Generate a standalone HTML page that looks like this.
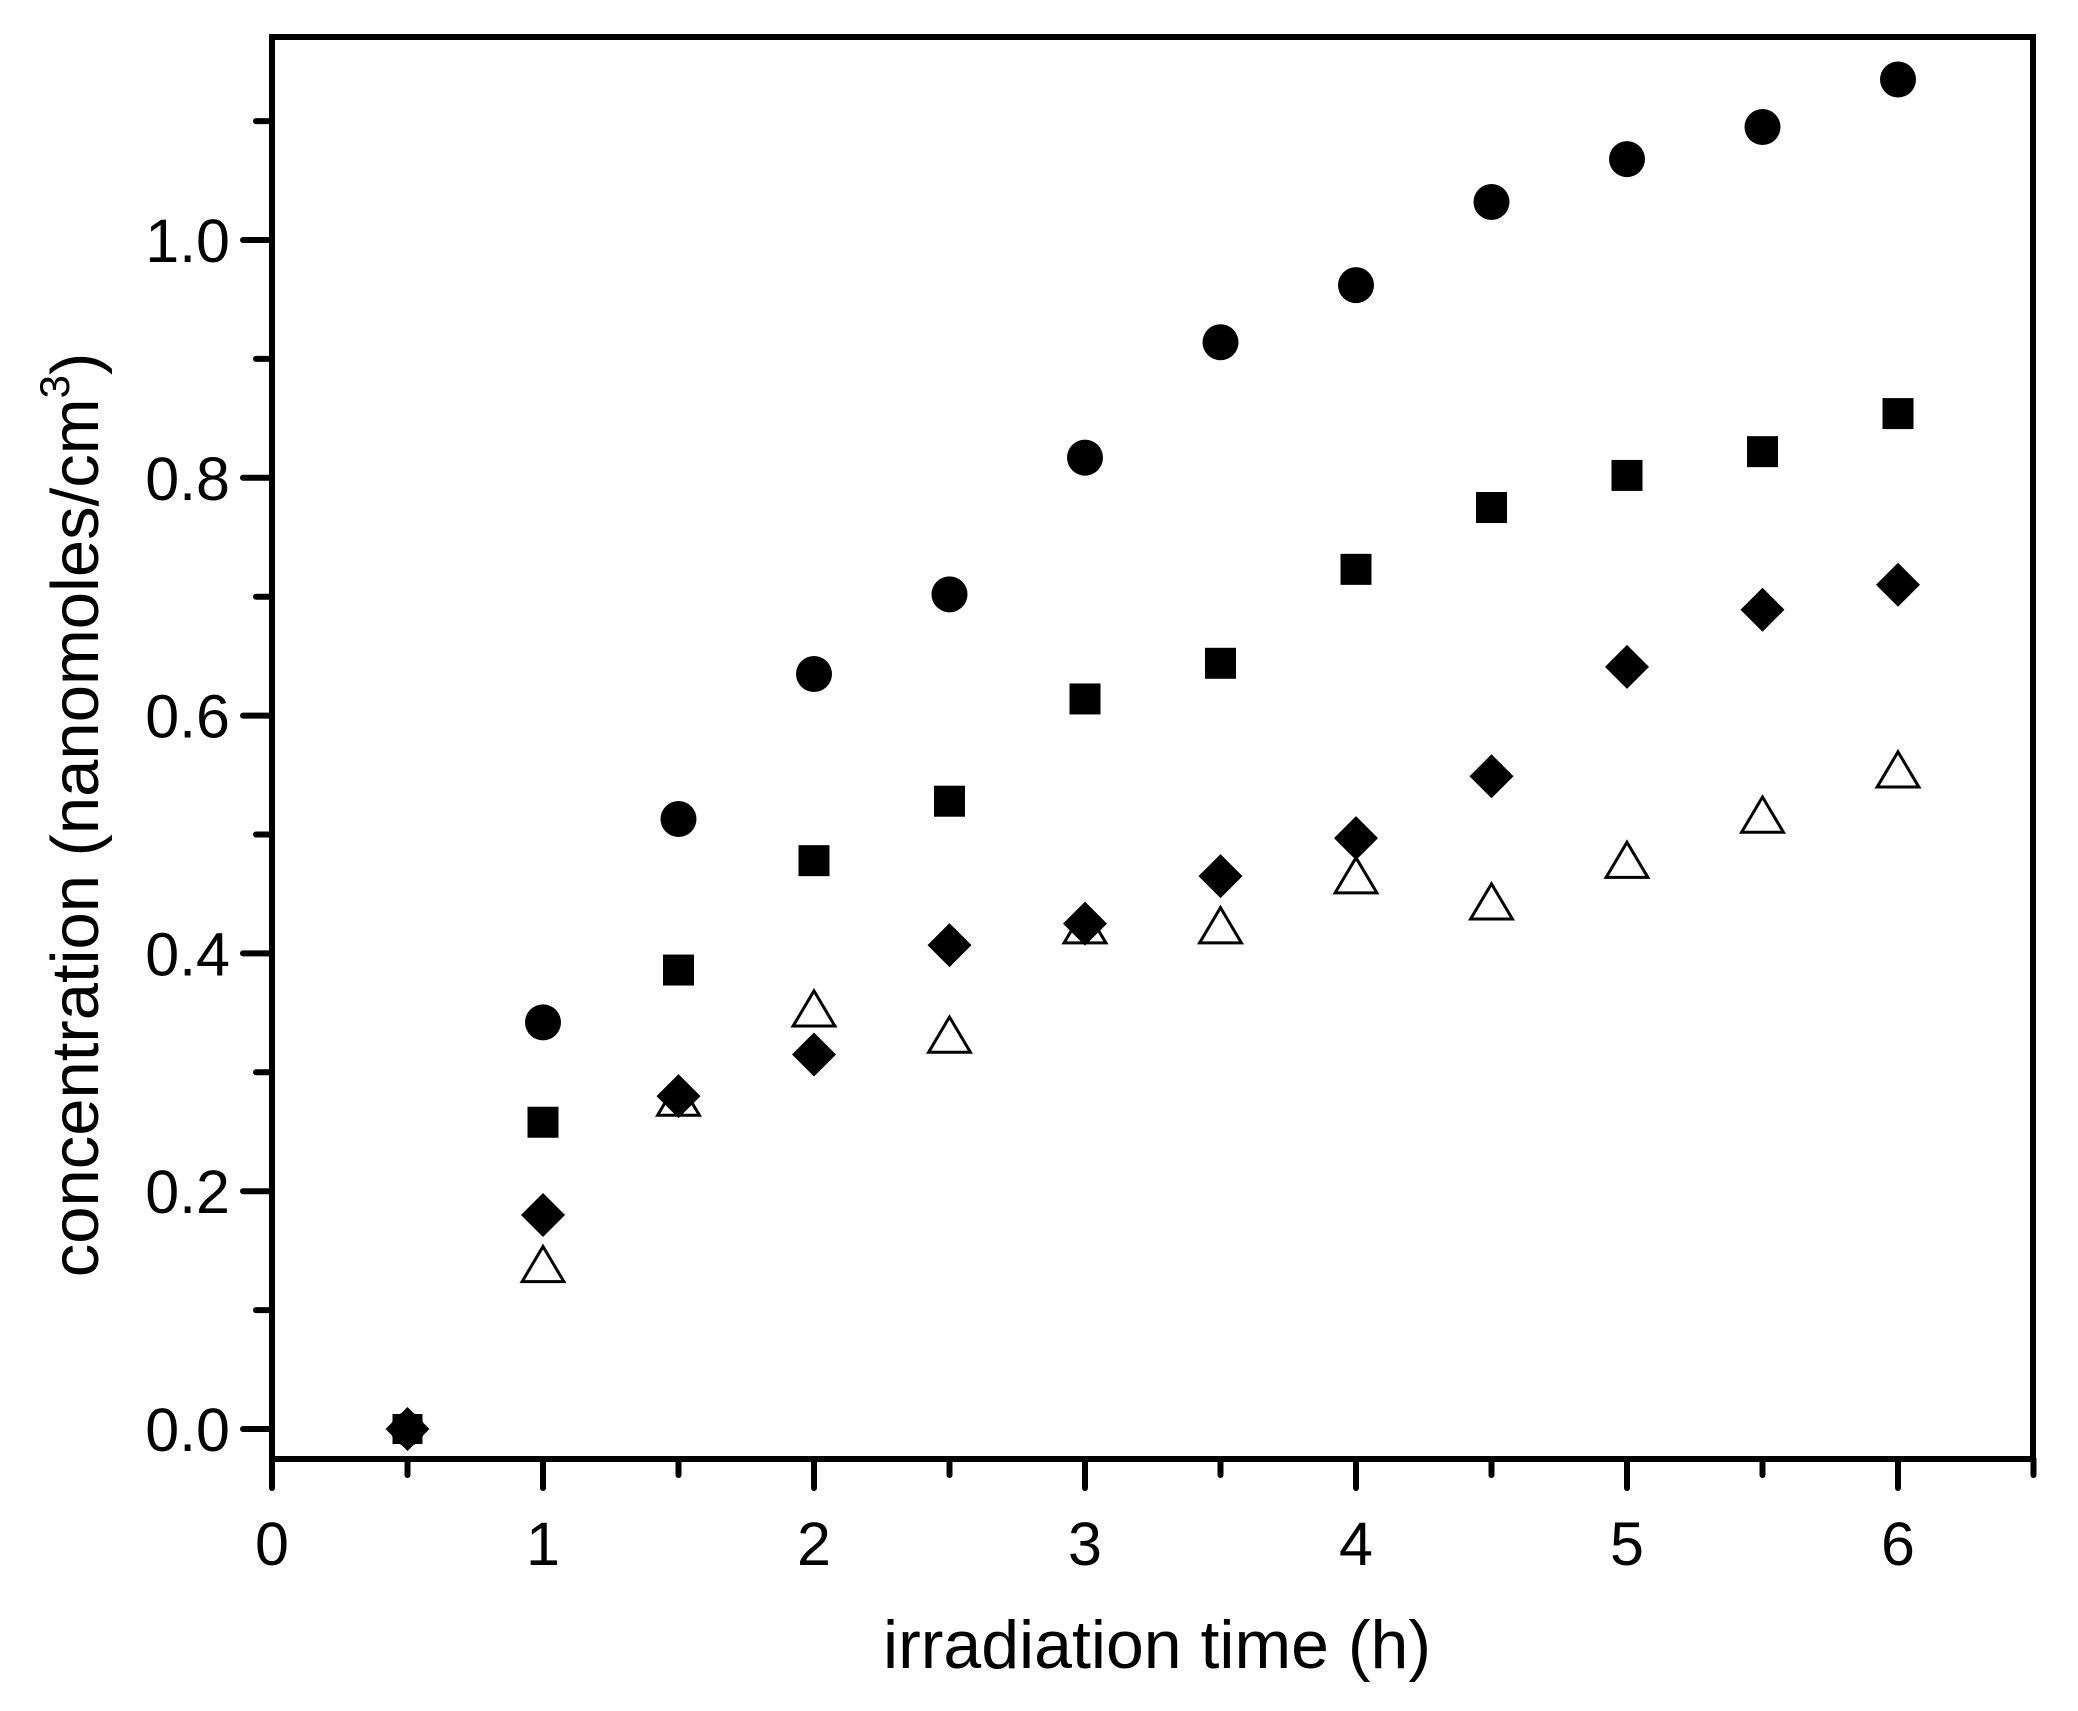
<!DOCTYPE html>
<html><head><meta charset="utf-8"><style>html,body{margin:0;padding:0;background:#fff;}svg{display:block;}</style></head>
<body>
<svg id="s" width="2078" height="1711" viewBox="0 0 2078 1711" xmlns="http://www.w3.org/2000/svg" font-family="Liberation Sans, sans-serif">
<rect width="2078" height="1711" fill="#fff"/>
<g id="g"></g>
<text x="0" y="0" font-size="67" text-anchor="middle" transform="translate(98,815) rotate(-90)">concentration (nanomoles/cm<tspan font-size="42" dy="-29">3</tspan><tspan dy="29">)</tspan></text>
<text x="1157" y="1668" font-size="68" text-anchor="middle">irradiation time (h)</text>
</svg>
<script>
var g=document.getElementById('g'),h='';
function X(v){return 272+v*271;}function Y(v){return 1429-v*1189;}
h+='<rect x="272" y="37" width="1761" height="1422" fill="none" stroke="#000" stroke-width="6"/>';
for(var i=0;i<=13;i++){var v=i*0.5,x=X(v),L=(i%2==0)?29:16;h+='<line x1="'+x+'" y1="1459" x2="'+x+'" y2="'+(1459+L)+'" stroke="#000" stroke-width="6" stroke-linecap="round"/>';
if(i%2==0&&i<=12)h+='<text x="'+x+'" y="1565" font-size="61" text-anchor="middle">'+(i/2)+'</text>';}
for(var i=0;i<=11;i++){var v=i*0.1,y=Y(v),L=(i%2==0)?29:16;h+='<line x1="272" y1="'+y+'" x2="'+(272-L)+'" y2="'+y+'" stroke="#000" stroke-width="6" stroke-linecap="round"/>';
if(i%2==0)h+='<text x="230" y="'+(y+22)+'" font-size="61" text-anchor="end">'+v.toFixed(1)+'</text>';}
var xs=[1,1.5,2,2.5,3,3.5,4,4.5,5,5.5,6];
var C=[.342,.513,.635,.702,.817,.914,.962,1.032,1.068,1.095,1.135];
var S=[.258,.386,.478,.528,.614,.644,.723,.775,.802,.822,.854];
var D=[.18,.28,.315,.407,.425,.465,.497,.549,.641,.689,.71];
var T=[.135,.275,.35,.328,.42,.42,.462,.44,.475,.513,.551];
function tri(x,y){var r=22;return '<polygon points="'+x+','+(y-r)+' '+(x+r*0.95)+','+(y+r*0.6)+' '+(x-r*0.95)+','+(y+r*0.6)+'" fill="#fff" stroke="#000" stroke-width="3"/>';}
function dia(x,y){var r=22;return '<polygon points="'+x+','+(y-r)+' '+(x+r)+','+y+' '+x+','+(y+r)+' '+(x-r)+','+y+'" fill="#000"/>';}
var x0=X(0.5),y0=Y(0);
h+='<rect x="'+(x0-15)+'" y="'+(y0-15)+'" width="30" height="30" fill="#000"/>'+dia(x0,y0)+'<circle cx="'+x0+'" cy="'+y0+'" r="17"/>';
for(var i=0;i<11;i++){var x=X(xs[i]);
h+=tri(x,Y(T[i]));
h+=dia(x,Y(D[i]));
h+='<rect x="'+(x-15.5)+'" y="'+(Y(S[i])-15.5)+'" width="31" height="31" fill="#000"/>';
h+='<circle cx="'+x+'" cy="'+Y(C[i])+'" r="18" fill="#000"/>';}
g.innerHTML=h;
</script>
</body></html>
